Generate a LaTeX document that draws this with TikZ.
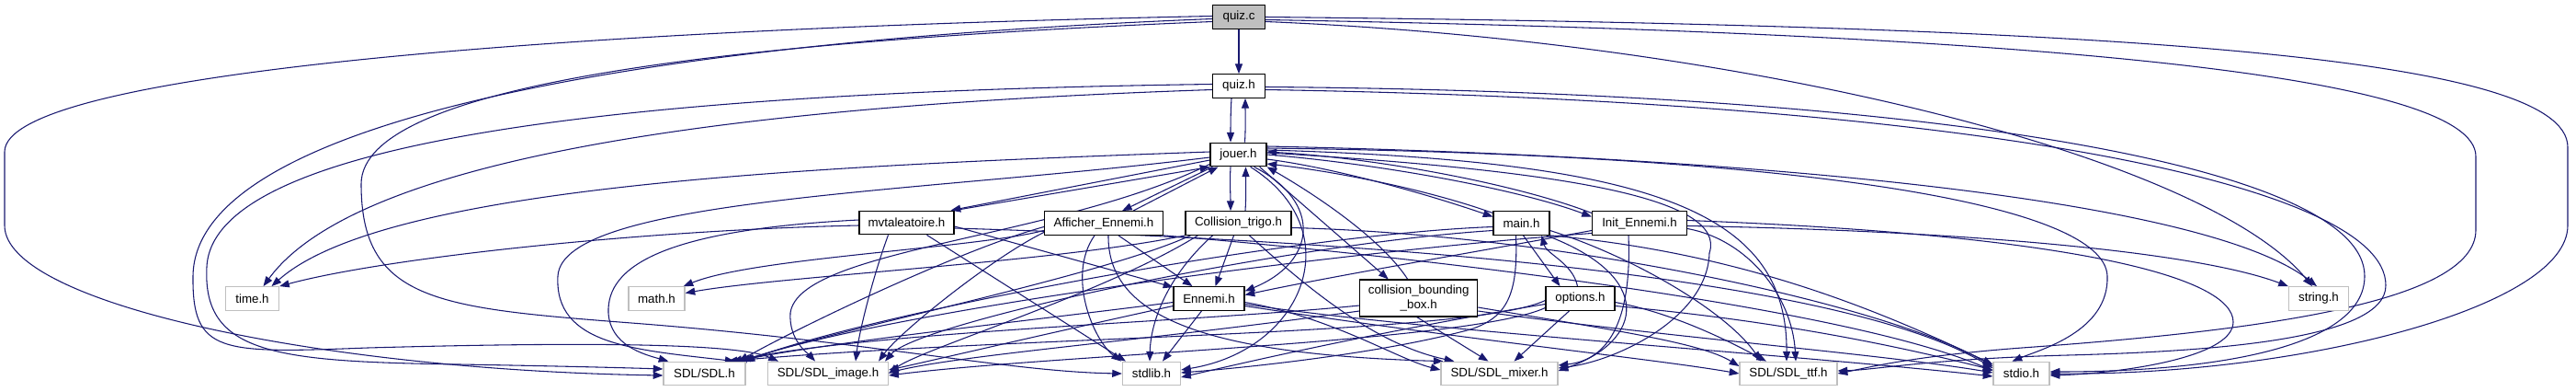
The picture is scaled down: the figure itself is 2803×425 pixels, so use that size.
\documentclass[tikz,border=0pt]{standalone}
\usepackage{fontspec}
\setmainfont{Liberation Sans}
\usetikzlibrary{arrows.meta,calc}
\pgfdeclarelayer{bg}
\pgfsetlayers{bg,main}
\definecolor{edgeblue}{HTML}{191970}
\definecolor{libgray}{HTML}{BFBFBF}
\tikzset{
  dep/.style={draw=edgeblue, line width=0.8pt, -{Triangle[length=8pt,width=6pt]}},
  hbox/.style={draw=black, line width=0.9pt, fill=white, inner xsep=3pt, inner ysep=0pt, minimum height=19.2pt, font=\fontsize{10}{11.5}\selectfont, align=center},
  libbox/.style={hbox, draw=libgray},
  rootbox/.style={hbox, fill=libgray},
}
\begin{document}
\begin{tikzpicture}[x=0.75pt,y=-0.75pt]
\useasboundingbox (0,0) rectangle (2803,425);
% nodes
\node[rootbox, minimum width=42.75pt] (quizc) at (1348,18.5) {quiz.c};
\node[hbox, minimum width=42.75pt] (quizh) at (1348,93.5) {quiz.h};
\node[hbox, minimum width=45.75pt] (jouer) at (1347.5,168) {jouer.h};
\node[hbox, minimum width=77.25pt] (mvt) at (986.5,242) {mvtaleatoire.h};
\node[hbox, minimum width=96.75pt] (aff) at (1201,242.5) {Afficher\_Ennemi.h};
\node[hbox, minimum width=86.25pt] (coll) at (1347.5,242.5) {Collision\_trigo.h};
\node[hbox, minimum width=45.75pt] (mainh) at (1655.5,242.5) {main.h};
\node[hbox, minimum width=77.25pt] (init) at (1784,242.5) {Init\_Ennemi.h};
\node[libbox, minimum width=43.5pt] (time) at (274.5,324.5) {time.h};
\node[libbox, minimum width=45.75pt] (math) at (714.5,324.5) {math.h};
\node[hbox, minimum width=57.75pt] (ennemi) at (1315.5,324.5) {Ennemi.h};
\node[hbox, minimum width=96pt, minimum height=30pt] (cbb) at (1543.7,324) {collision\_bounding\\\_box.h};
\node[hbox, minimum width=56.25pt] (options) at (1719.5,324.5) {options.h};
\node[libbox, minimum width=48.75pt] (string) at (2523,324.5) {string.h};
\node[libbox, minimum width=66.75pt] (sdl) at (766.5,406) {SDL/SDL.h};
\node[libbox, minimum width=98.25pt] (sdlimg) at (901,406) {SDL/SDL\_image.h};
\node[libbox, minimum width=47.25pt] (stdlib) at (1253,406) {stdlib.h};
\node[libbox, minimum width=95.25pt] (mixer) at (1631.5,406) {SDL/SDL\_mixer.h};
\node[libbox, minimum width=79.5pt] (ttf) at (1946,406) {SDL/SDL\_ttf.h};
\node[libbox, minimum width=45.75pt] (stdio) at (2199.5,406) {stdio.h};

\begin{pgfonlayer}{bg}
% quiz.c
\draw[dep] (quizc) -- (quizh);
\draw[dep] ($(quizc.west)+(0,-1)$) .. controls (600,32) and (5,80) .. (5,165) -- (5,245) .. controls (5,330) and (350,402) .. ($(sdl.west)+(0,2)$);
\draw[dep] ($(quizc.west)+(0,2)$) .. controls (700,45) and (212,130) .. (210,300) .. controls (209,385) and (240,384) .. (400,378) .. controls (620,372) and (800,372) .. ($(sdlimg.north west)+(12,0)$);
\draw[dep] ($(quizc.west)+(0,5)$) .. controls (800,45) and (393,90) .. (393,200) .. controls (393,330) and (480,335) .. (700,352) .. controls (950,372) and (1100,404) .. (stdlib.west);
\draw[dep] (quizc.east) .. controls (2300,28) and (2794,60) .. (2794,160) -- (2794,245) .. controls (2794,335) and (2500,408) .. (stdio.east);
\draw[dep] ($(quizc.east)+(0,3)$) .. controls (2200,36) and (2694,80) .. (2694,170) -- (2694,250) .. controls (2694,330) and (2450,360) .. (2200,378) .. controls (2080,387) and (2030,400) .. (ttf.east);
\draw[dep] ($(quizc.east)+(0,5)$) .. controls (1900,45) and (2400,170) .. ($(string.north)+(-7,0)$);
% quiz.h
\draw[dep] ($(quizh.south)+(-8,0)$) .. controls +(-1,15) and +(0,-15) .. ($(jouer.north)+(-8.5,0)$);
\draw[dep] ($(jouer.north)+(7,0)$) .. controls +(1,-15) and +(0,15) .. ($(quizh.south)+(7,0)$);
\draw[dep] ($(quizh.west)+(0,4)$) .. controls (800,115) and (390,170) .. ($(time.north)+(12,0)$);
\draw[dep] ($(quizh.west)+(0,-2)$) .. controls (700,100) and (232,150) .. (225,290) .. controls (220,385) and (300,393) .. (500,396) .. controls (620,398) and (690,400) .. ($(sdl.west)+(0,-5)$);
\draw[dep] ($(quizh.east)+(0,1)$) .. controls (2100,100) and (2573,180) .. (2573,300) .. controls (2573,380) and (2400,404) .. ($(stdio.east)+(0,-2)$);
\draw[dep] ($(quizh.east)+(0,4)$) .. controls (2150,110) and (2596,200) .. (2596,310) .. controls (2597,370) and (2400,382) .. (2250,386) .. controls (2100,390) and (2040,402) .. ($(ttf.east)+(0,-3)$);
% jouer local
\draw[dep] ($(jouer.west)+(0,6)$) -- ($(mvt.north east)+(-4,0)$);
\draw[dep] (mvt.north east) -- (jouer.south west);
\draw[dep] ($(jouer.south west)+(3,0)$) -- ($(aff.north)+(20,0)$);
\draw[dep] ($(aff.north)+(32,0)$) -- ($(jouer.south)+(-22,0)$);
\draw[dep] ($(jouer.south)+(-8.5,0)$) .. controls +(-1,15) and +(0,-15) .. ($(coll.north)+(-8.5,0)$);
\draw[dep] ($(coll.north)+(7.5,0)$) .. controls +(1,-15) and +(0,15) .. ($(jouer.south)+(8,0)$);
\draw[dep] ($(jouer.east)+(0,5)$) .. controls (1450,182) and (1550,210) .. ($(mainh.west)+(0,-7)$);
\draw[dep] ($(mainh.west)+(0,-11)$) .. controls (1550,205) and (1450,186) .. ($(jouer.east)+(0,10)$);
\draw[dep] ($(jouer.east)+(0,0)$) .. controls (1500,178) and (1650,205) .. ($(init.west)+(0,-7)$);
\draw[dep] ($(init.west)+(0,-11)$) .. controls (1650,200) and (1500,172) .. ($(jouer.east)+(0,-3)$);
\draw[dep] ($(jouer.south east)+(-14,0)$) .. controls (1440,220) and (1432,285) .. ($(ennemi.east)+(0,-8)$);
\draw[dep] ($(jouer.south east)+(-8,0)$) -- ($(cbb.north)+(-33,0)$);
\draw[dep] ($(cbb.north)+(-12,0)$) .. controls (1500,255) and (1420,205) .. (jouer.south east);
% jouer libs
\draw[dep] ($(jouer.west)+(0,-3)$) .. controls (900,180) and (420,200) .. ($(time.north)+(21,0)$);
\draw[dep] ($(jouer.west)+(0,3)$) .. controls (1000,210) and (612,215) .. (607,300) .. controls (603,375) and (690,380) .. ($(sdl.north east)+(-12,0)$);
\draw[dep] ($(jouer.south west)+(0,-3)$) .. controls (1150,260) and (870,270) .. (860,340) .. controls (858,370) and (880,385) .. ($(sdlimg.north)+(-14,0)$);
\draw[dep] ($(jouer.south east)+(-18,0)$) .. controls (1470,250) and (1420,380) .. ($(stdlib.east)+(0,-4)$);
\draw[dep] ($(jouer.east)+(0,-2)$) .. controls (1700,185) and (1880,215) .. (1860,275) .. controls (1858,345) and (1760,392) .. ($(mixer.east)+(0,-6)$);
\draw[dep] ($(jouer.east)+(0,-5)$) .. controls (1800,175) and (1945,230) .. ($(ttf.north)+(-2,0)$);
\draw[dep] ($(jouer.east)+(0,-7)$) .. controls (1950,168) and (2290,220) .. (2293,300) .. controls (2295,360) and (2220,380) .. ($(stdio.north)+(-10,0)$);
\draw[dep] ($(jouer.east)+(0,-9)$) .. controls (1900,170) and (2400,215) .. ($(string.north)+(-2,0)$);
% mvtaleatoire.h
\draw[dep] ($(mvt.west)+(0,3)$) .. controls (700,250) and (420,280) .. (time.north east);
\draw[dep] ($(mvt.east)+(0,4)$) -- ($(ennemi.north west)+(0,1)$);
\draw[dep] ($(mvt.south)+(22,0)$) -- ($(stdlib.north)+(-28,0)$);
\draw[dep] ($(mvt.west)+(0,-3)$) .. controls (720,250) and (660,290) .. (662,340) .. controls (664,375) and (700,385) .. ($(sdl.north west)+(6,0)$);
\draw[dep] ($(mvt.south)+(-20,0)$) .. controls (950,300) and (935,360) .. ($(sdlimg.north)+(30,0)$);
\draw[dep] ($(mvt.east)+(0,6)$) .. controls (1500,262) and (2000,300) .. ($(stdio.west)+(0,-6)$);
% Afficher_Ennemi.h
\draw[dep] ($(aff.south)+(16,0)$) -- ($(ennemi.north)+(-18,0)$);
\draw[dep] ($(aff.south)+(-10,0)$) .. controls (1160,300) and (1190,370) .. ($(stdlib.north)+(-33,0)$);
\draw[dep] ($(aff.south)+(5,0)$) .. controls (1205,340) and (1300,385) .. ($(mixer.north west)+(3,0)$);
\draw[dep] ($(aff.west)+(0,8)$) .. controls (1060,270) and (820,280) .. ($(math.north east)+(-2,0)$);
\draw[dep] ($(aff.west)+(0,4)$) .. controls (1050,270) and (880,350) .. ($(sdl.north east)+(-8,0)$);
\draw[dep] ($(aff.west)+(0,10)$) .. controls (1080,280) and (980,360) .. ($(sdlimg.north)+(55,0)$);
\draw[dep] (aff.south east) .. controls (1500,275) and (2000,330) .. ($(stdio.west)+(0,-3)$);
% Collision_trigo.h
\draw[dep] ($(coll.south)+(-5,0)$) -- ($(ennemi.north)+(7,0)$);
\draw[dep] ($(coll.south)+(-28,0)$) .. controls (1270,300) and (1252,350) .. ($(stdlib.north)+(-2,0)$);
\draw[dep] (coll.south west) .. controls (1150,285) and (850,300) .. ($(math.east)+(0,-6)$);
\draw[dep] ($(coll.south west)+(6,0)$) .. controls (1200,300) and (900,360) .. ($(sdl.north east)+(-3,0)$);
\draw[dep] ($(coll.south west)+(14,0)$) .. controls (1200,320) and (1000,380) .. (sdlimg.east);
\draw[dep] ($(coll.south)+(12,0)$) .. controls (1430,320) and (1500,375) .. ($(mixer.north west)+(15,0)$);
\draw[dep] ($(coll.east)+(0,5)$) .. controls (1700,255) and (2050,330) .. ($(stdio.west)+(0,-8)$);
% main.h
\draw[dep] ($(mainh.south)+(2,0)$) -- ($(options.north)+(-22,0)$);
\draw[dep] ($(options.north)+(-3,0)$) .. controls +(-5,-25) and +(5,20) .. ($(mainh.south)+(22,0)$);
\draw[dep] ($(mainh.south)+(-6,0)$) .. controls (1652,320) and (1640,345) .. (1600,358) .. controls (1500,385) and (1350,400) .. ($(stdlib.east)+(0,-1)$);
\draw[dep] ($(mainh.east)+(0,8)$) .. controls (1780,280) and (1880,340) .. ($(ttf.north)+(-30,0)$);
\draw[dep] (mainh.south east) .. controls (1900,275) and (2050,340) .. ($(stdio.west)+(0,-10)$);
\draw[dep] ($(mainh.south east)+(-4,0)$) .. controls (1800,300) and (1790,370) .. ($(mixer.east)+(0,-3)$);
\draw[dep] ($(mainh.west)+(0,4)$) .. controls (1400,255) and (950,340) .. ($(sdl.north east)+(-1,0)$);
\draw[dep] ($(mainh.west)+(0,8)$) .. controls (1400,265) and (1000,350) .. ($(sdlimg.north)+(62,0)$);
% Init_Ennemi.h
\draw[dep] ($(init.west)+(0,8)$) .. controls (1600,275) and (1450,300) .. ($(ennemi.east)+(0,-4)$);
\draw[dep] ($(init.east)+(0,3)$) .. controls (2100,250) and (2380,270) .. (string.north west);
\draw[dep] ($(init.south)+(-12,0)$) .. controls (1775,330) and (1760,390) .. ($(mixer.east)+(0,-9)$);
\draw[dep] ($(init.east)+(0,6)$) .. controls (1900,260) and (1950,320) .. ($(ttf.north)+(8,0)$);
\draw[dep] ($(init.east)+(0,-3)$) .. controls (2250,255) and (2430,300) .. (2430,350) .. controls (2430,390) and (2300,406) .. ($(stdio.east)+(0,2)$);
\draw[dep] ($(init.west)+(0,11)$) .. controls (1500,270) and (1000,330) .. ($(sdl.north east)+(-6,0)$);
% Ennemi.h
\draw[dep] ($(ennemi.south)+(-8,0)$) -- ($(stdlib.north)+(12,0)$);
\draw[dep] ($(ennemi.west)+(0,4)$) .. controls (1150,345) and (900,372) .. ($(sdl.north east)+(-10,0)$);
\draw[dep] ($(ennemi.west)+(0,8)$) .. controls (1150,360) and (1000,395) .. ($(sdlimg.east)+(0,-4)$);
\draw[dep] ($(ennemi.east)+(0,4)$) .. controls (1450,345) and (1520,390) .. ($(mixer.west)+(0,-4)$);
\draw[dep] ($(ennemi.east)+(0,8)$) .. controls (1600,370) and (1800,390) .. (ttf.west);
\draw[dep] ($(ennemi.east)+(0,6)$) .. controls (1550,360) and (1950,385) .. ($(stdio.west)+(0,3)$);
% collision_bounding_box.h
\draw[dep] ($(cbb.south)+(-2,0)$) -- ($(mixer.north)+(-12,0)$);
\draw[dep] ($(cbb.east)+(0,10)$) .. controls (1750,358) and (1850,372) .. ($(ttf.west)+(0,-8)$);
\draw[dep] ($(cbb.east)+(0,14)$) .. controls (1800,365) and (2050,385) .. ($(stdio.west)+(0,-1)$);
\draw[dep] ($(cbb.west)+(0,8)$) .. controls (1300,350) and (950,360) .. ($(sdl.north east)+(-15,0)$);
\draw[dep] ($(cbb.west)+(0,14)$) .. controls (1250,370) and (1050,385) .. ($(sdlimg.east)+(0,-1)$);
% options.h
\draw[dep] ($(options.south)+(-12,0)$) -- ($(mixer.north)+(16,0)$);
\draw[dep] ($(options.west)+(0,6)$) .. controls (1500,360) and (1350,395) .. ($(stdlib.east)+(0,4)$);
\draw[dep] ($(options.east)+(0,4)$) .. controls (1820,340) and (1880,370) .. ($(ttf.north)+(-24,0)$);
\draw[dep] ($(options.east)+(0,8)$) .. controls (1950,350) and (2080,380) .. ($(stdio.west)+(0,-4)$);
\draw[dep] ($(options.west)+(0,2)$) .. controls (1600,365) and (1100,365) .. ($(sdl.north east)+(-20,0)$);
\draw[dep] ($(options.west)+(0,10)$) .. controls (1600,372) and (1150,385) .. ($(sdlimg.east)+(0,2)$);
\end{pgfonlayer}
\end{tikzpicture}
\end{document}
